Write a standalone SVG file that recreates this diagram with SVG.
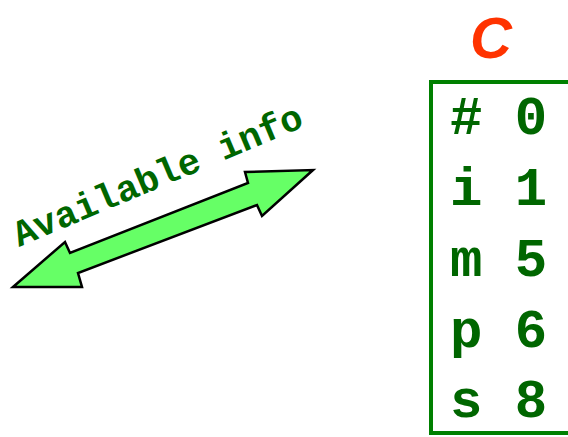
<svg xmlns="http://www.w3.org/2000/svg" width="568" height="437" viewBox="0 0 568 437">
  <style>
    .mono { font-family: "Liberation Mono", "Courier New", monospace; font-weight: bold; fill: #006600; }
    .cell { font-size: 54px; }
  </style>
  <rect width="568" height="437" fill="#ffffff"/>

  <!-- double-headed block arrow -->
  <g id="connectors">
    <polygon points="13,287 65,242 70,253 248,183 245,172 313,170 262,216 257,205 78,273 82,287"
             fill="#66ff66" stroke="#000000" stroke-width="2.5" stroke-linejoin="miter"/>
  </g>

  <g id="label-available">
    <text class="mono" font-size="37" transform="translate(19,247) rotate(-22.9)">Available info</text>
  </g>

  <!-- table C -->
  <g id="table-c">
    <text x="491" y="58" text-anchor="middle" font-family="'Liberation Sans', sans-serif" font-weight="bold" font-style="italic" font-size="58" fill="#ff3300">C</text>
    <polyline points="580,82 431,82 431,433 580,433" fill="none" stroke="#008000" stroke-width="4"/>
    <text class="mono cell" x="450" y="134" xml:space="preserve"># 0</text>
    <text class="mono cell" x="450" y="205" xml:space="preserve">i 1</text>
    <text class="mono cell" x="450" y="276" xml:space="preserve">m 5</text>
    <text class="mono cell" x="450" y="347" xml:space="preserve">p 6</text>
    <text class="mono cell" x="450" y="417" xml:space="preserve">s 8</text>
  </g>
</svg>
